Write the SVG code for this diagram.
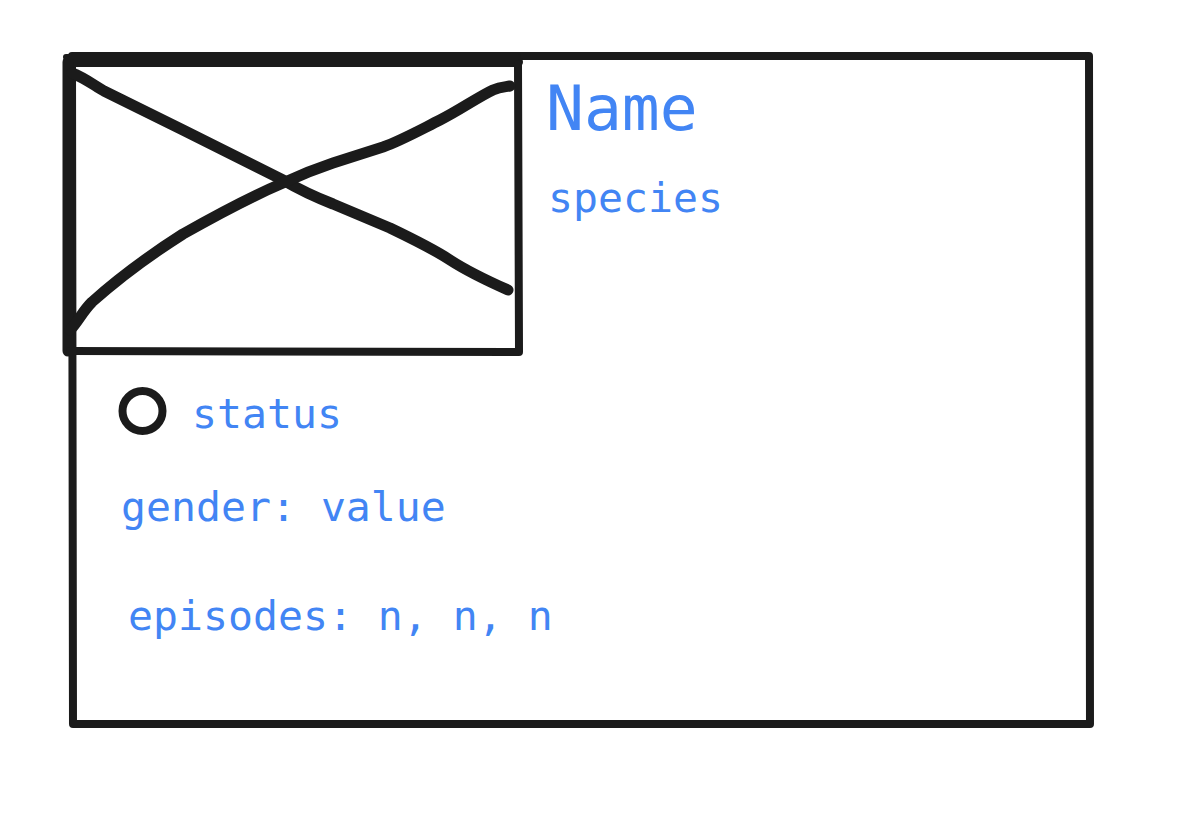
<svg xmlns="http://www.w3.org/2000/svg" width="1177" height="832" viewBox="0 0 1177 832">
<style>
.ink{fill:none;stroke:#1b1b1b;stroke-linecap:round;stroke-linejoin:round}
.t{font-family:"DejaVu Sans Mono","Liberation Mono",monospace;fill:#4285f4}
.s{font-size:41.5px}
</style>
<rect width="1177" height="832" fill="#ffffff"/>
<g id="card">
<path class="ink" stroke-width="8" d="M72 56 L1089 56 L1090 724 L73 724 L72 56"/>
</g>
<g id="image">
<path class="ink" stroke-width="10" d="M68 62 L518 62"/>
<path class="ink" stroke-width="6" d="M66 57 L518 57"/>
<path class="ink" stroke-width="11" d="M68 62 L68 351"/>
<path class="ink" stroke-width="8" d="M518 64 L519 352 L70 351"/>
<path class="ink" stroke-width="11" d="M72 73 C85 78 95 86 104 91 L183 130 L283 180 C300 190 315 197 333 204 L390 228 C415 240 435 250 450 260 C470 273 490 282 508 290"/>
<path class="ink" stroke-width="11" d="M70 330 C78 322 82 312 92 302 C120 277 150 255 183 234 C220 213 250 197 283 183 C300 175 315 169 333 163 L383 147 C400 141 420 130 440 120 C460 110 478 97 493 90 C500 87 505 87 510 86"/>
</g>
<g id="name"><text class="t" x="546" y="130" font-size="63">Name</text></g>
<g id="species"><text class="t s" x="548" y="212">species</text></g>
<g id="status">
<circle class="ink" cx="142.5" cy="411" r="20" stroke-width="8"/>
<text class="t s" x="192" y="428">status</text>
</g>
<g id="gender"><text class="t s" x="121" y="521">gender: value</text></g>
<g id="episodes"><text class="t s" x="128" y="630">episodes: n, n, n</text></g>
<g id="connectors"></g>
</svg>
